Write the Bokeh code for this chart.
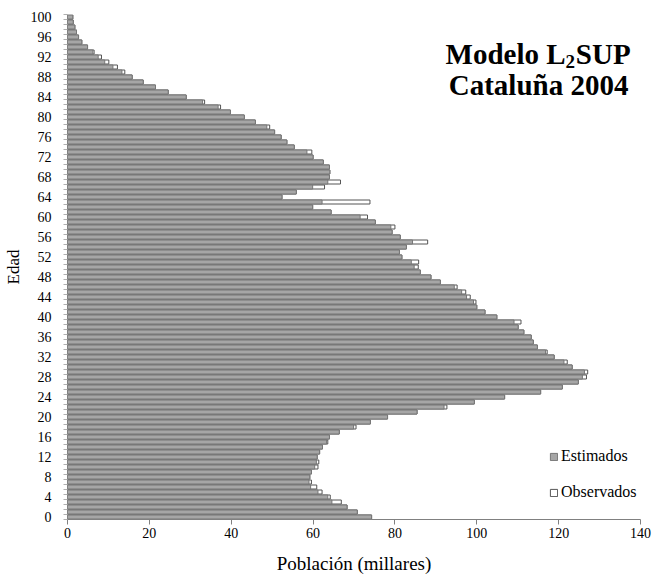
from bokeh.plotting import figure
from bokeh.models import Range1d, FixedTicker, Legend, LegendItem, Label
from bokeh.embed import file_html
from bokeh.resources import INLINE

ages = list(range(101))

estimados = [
    74.3, 70.8, 68.3, 64.6, 63.6, 61.2, 59.4, 59.0, 59.2, 59.6,   # 0-9
    60.4, 60.8, 61.0, 61.6, 62.3, 63.3, 64.0, 66.4, 69.9, 74.0,   # 10-19
    78.2, 85.4, 92.0, 99.4, 106.8, 115.6, 120.9, 124.8, 125.8, 126.3,  # 20-29
    123.3, 121.3, 118.9, 116.8, 114.8, 113.8, 113.3, 111.5, 110.1, 109.1,  # 30-39
    104.9, 102.0, 100.0, 99.2, 97.5, 96.3, 94.5, 91.1, 88.8, 86.2,  # 40-49
    84.7, 84.0, 81.7, 81.1, 82.8, 84.3, 81.3, 79.3, 79.0, 75.2,   # 50-59
    71.5, 64.4, 59.9, 62.2, 52.4, 55.9, 59.9, 63.6, 64.0, 64.1,   # 60-69
    64.0, 62.5, 60.0, 58.5, 55.4, 53.6, 52.2, 50.6, 48.7, 45.9,   # 70-79
    43.2, 39.8, 36.8, 33.0, 29.0, 24.6, 21.5, 18.5, 15.8, 13.3,   # 80-89
    11.1, 9.1, 7.5, 6.2, 4.9, 3.5, 2.7, 2.2, 1.8, 1.4,            # 90-99
    1.3,                                                          # 100
]

observados = [
    74.3, 70.8, 68.3, 66.9, 64.2, 62.2, 60.9, 59.6, 59.2, 59.6,   # 0-9
    61.2, 61.4, 61.0, 61.6, 62.3, 63.6, 64.0, 66.4, 70.5, 74.0,   # 10-19
    78.2, 85.4, 92.7, 99.4, 106.8, 115.6, 120.9, 124.8, 126.8, 127.1,  # 20-29
    123.3, 122.1, 118.9, 117.2, 114.8, 113.8, 113.3, 111.5, 110.1, 110.8,  # 30-39
    104.9, 102.0, 100.0, 99.8, 98.4, 97.3, 95.2, 91.1, 88.8, 86.2,  # 40-49
    85.7, 85.8, 81.7, 81.1, 82.8, 88.0, 81.3, 79.3, 80.0, 75.2,   # 50-59
    73.3, 64.4, 59.9, 73.9, 52.4, 55.9, 62.8, 66.7, 64.0, 64.1,   # 60-69
    64.0, 62.5, 60.0, 59.7, 55.4, 53.6, 52.2, 50.6, 49.4, 45.9,   # 70-79
    43.2, 39.8, 37.4, 33.5, 29.0, 24.6, 21.5, 18.5, 15.8, 14.0,   # 80-89
    12.2, 10.1, 8.3, 6.5, 4.9, 3.5, 2.7, 2.2, 1.8, 1.4,           # 90-99
    1.3,                                                          # 100
]

x_ticks = [0, 20, 40, 60, 80, 100, 120, 140]
y_label_ticks = list(range(0, 101, 4))

FONT = "Liberation Serif"

p = figure(width=654, height=576, output_backend="svg", toolbar_location=None,
           x_range=Range1d(0, 140), y_range=Range1d(-0.5, 100.5),
           min_border_left=66, min_border_right=14, min_border_top=14,
           min_border_bottom=57)
p.outline_line_color = None
p.grid.visible = False
p.background_fill_color = "white"
p.border_fill_color = "white"

obs_r = p.hbar(y=ages, left=0, right=observados, height=0.8,
               fill_color="white", line_color="#555555", line_width=1)
est_r = p.hbar(y=ages, left=0, right=estimados, height=0.8,
               fill_color="#a6a6a6", line_color="#777777", line_width=1)

# x axis
xa = p.xaxis[0]
xa.ticker = FixedTicker(ticks=x_ticks)
xa.major_tick_out = 5
xa.major_tick_in = 0
xa.minor_tick_out = 0
xa.minor_tick_in = 0
xa.axis_line_color = "#808080"
xa.major_tick_line_color = "#808080"
xa.major_label_text_font = FONT
xa.major_label_text_font_size = "14px"
xa.major_label_text_color = "black"
xa.major_label_standoff = 3
xa.axis_label = "Población (millares)"
xa.axis_label_text_font = FONT
xa.axis_label_text_font_size = "19px"
xa.axis_label_text_font_style = "normal"
xa.axis_label_text_color = "black"
xa.axis_label_standoff = 12

# y axis
ya = p.yaxis[0]
ya.ticker = FixedTicker(ticks=y_label_ticks, minor_ticks=[a - 0.5 for a in range(102)])
ya.major_tick_out = 0
ya.major_tick_in = 0
ya.minor_tick_out = 4
ya.minor_tick_in = 0
ya.minor_tick_line_color = "#b0b0b0"
ya.axis_line_color = "#808080"
ya.major_label_text_font = FONT
ya.major_label_text_font_size = "14px"
ya.major_label_text_color = "black"
ya.major_label_standoff = 12
ya.axis_label = "Edad"
ya.axis_label_text_font = FONT
ya.axis_label_text_font_size = "17px"
ya.axis_label_text_font_style = "normal"
ya.axis_label_text_color = "black"
ya.axis_label_standoff = 5

# legend
legend = Legend(items=[LegendItem(label="Estimados", renderers=[est_r]),
                       LegendItem(label="Observados", renderers=[obs_r])],
                location=(482, 17))
legend.border_line_color = None
legend.background_fill_alpha = 0
legend.label_text_font = FONT
legend.label_text_font_size = "16px"
legend.label_text_color = "black"
legend.glyph_width = 9
legend.glyph_height = 9
legend.label_height = 20
legend.spacing = 16
legend.padding = 0
legend.margin = 0
legend.label_standoff = 3
p.add_layout(legend)

# title (with subscript)
tstyle = dict(text_font=FONT, text_font_style="bold", text_color="black")
p.add_layout(Label(x=121.7, y=92.6, text="Modelo L", text_align="right",
                   text_baseline="alphabetic", text_font_size="29px", **tstyle))
p.add_layout(Label(x=121.7, y=91.2, text="2", text_align="left",
                   text_baseline="alphabetic", text_font_size="19px", **tstyle))
p.add_layout(Label(x=124.2, y=92.6, text="SUP", text_align="left",
                   text_baseline="alphabetic", text_font_size="29px", **tstyle))
p.add_layout(Label(x=115.1, y=86.4, text="Cataluña 2004", text_align="center",
                   text_baseline="alphabetic", text_font_size="29px", **tstyle))

open("out.html", "w").write(file_html(p, INLINE))
